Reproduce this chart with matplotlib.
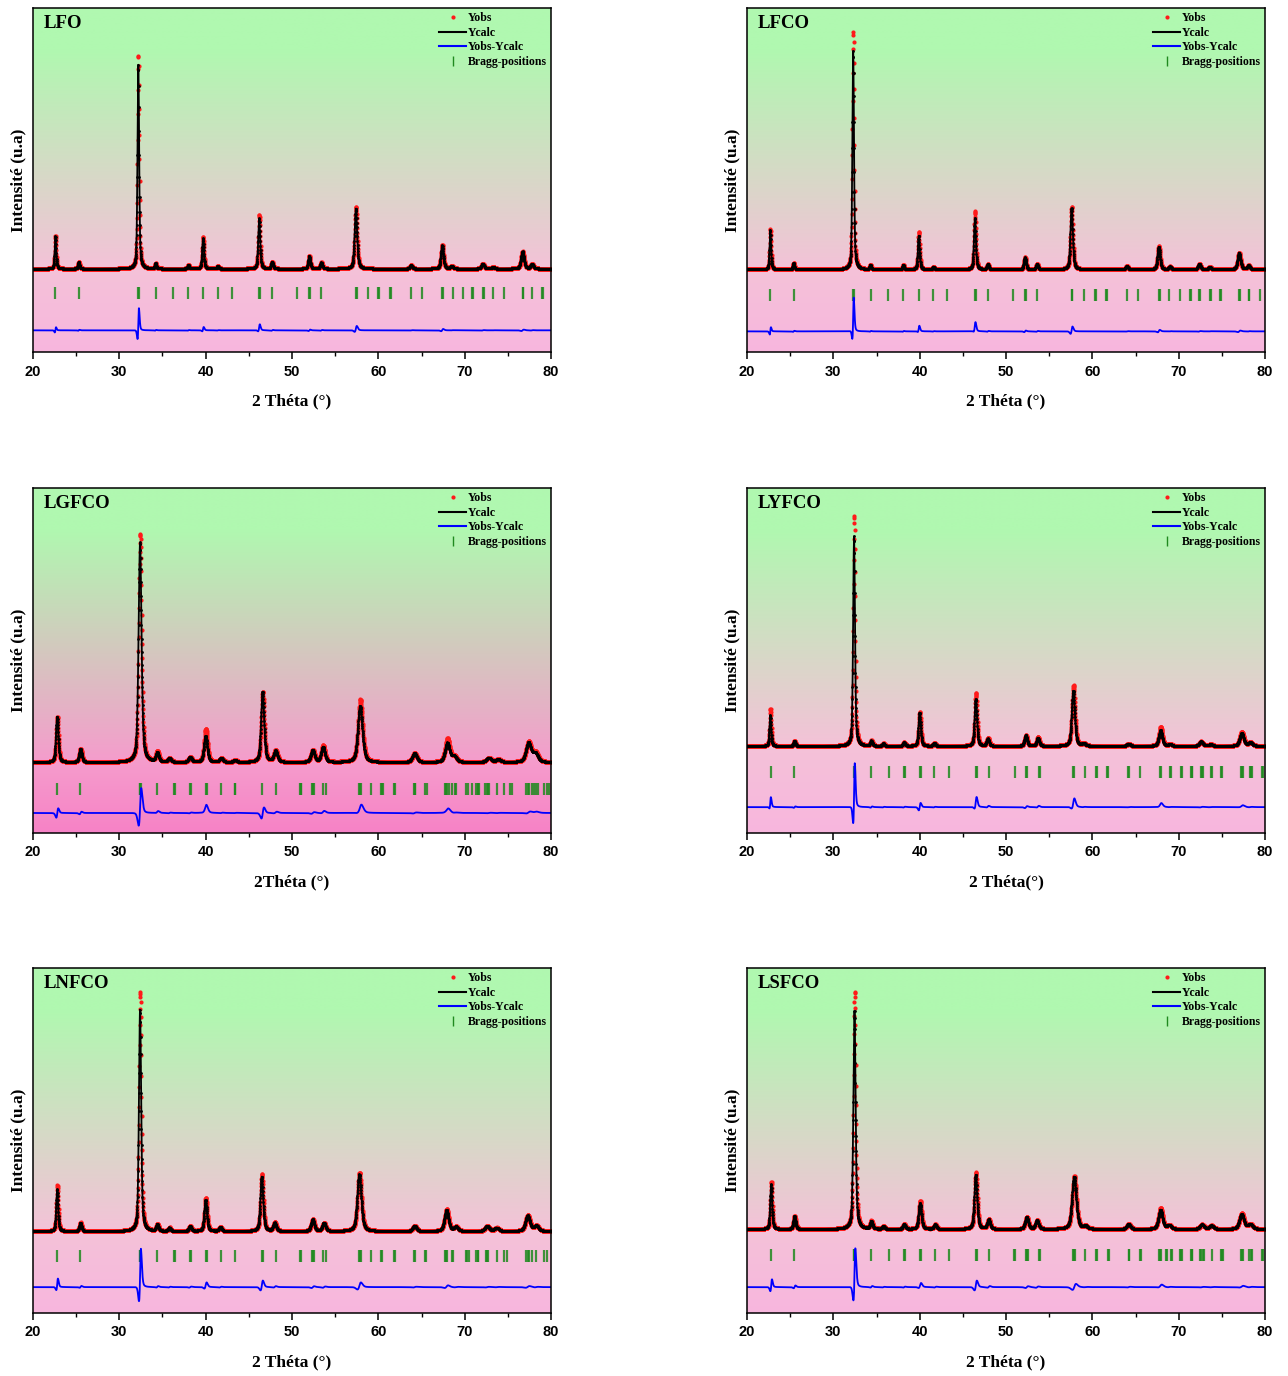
import numpy as np
import matplotlib
matplotlib.use('Agg')
import matplotlib.pyplot as plt
from matplotlib.lines import Line2D
from matplotlib.colors import to_rgb
from matplotlib.font_manager import FontProperties

# ---------------- data ----------------
x_ticks = [20, 30, 40, 50, 60, 70, 80]
panel_names = ['LFO', 'LFCO', 'LGFCO', 'LYFCO', 'LNFCO', 'LSFCO']
x_labels = ['2 Théta (°)', '2 Théta (°)', '2Théta (°)', '2 Théta(°)', '2 Théta (°)', '2 Théta (°)']
y_label = 'Intensité (u.a)'
legend_labels = ['Yobs', 'Ycalc', 'Yobs-Ycalc', 'Bragg-positions']

baseline = [24.2, 24.0, 20.5, 25.2, 23.7, 24.3]
bragg_level = [17.2, 16.5, 12.8, 17.6, 16.5, 16.9]
diff_level = [6.3, 6.0, 5.8, 7.5, 7.5, 7.5]
obs_shift = [0.012, 0.014, 0.025, 0.025, 0.025, 0.025]

LFO_pos = [22.6, 25.3, 32.2, 34.2, 38.0, 39.7, 41.4, 46.2, 47.7, 52.0, 53.4, 57.4, 63.8, 67.4, 68.5, 72.1, 73.3, 76.7, 77.8]
LFO_calc = [9.4, 2.0, 59.3, 1.5, 1.1, 8.8, 0.8, 14.6, 2.0, 3.7, 1.8, 17.5, 1.0, 6.8, 0.8, 1.5, 0.5, 5.0, 1.3]
LFO_obs = [9.6, 2.0, 62.2, 1.5, 1.1, 9.3, 0.8, 15.7, 2.0, 3.7, 1.8, 18.1, 1.0, 6.9, 0.8, 1.5, 0.5, 5.0, 1.3]
LFO_fwhm = [0.2, 0.22, 0.22, 0.22, 0.22, 0.24, 0.24, 0.26, 0.26, 0.28, 0.28, 0.34, 0.32, 0.34, 0.34, 0.36, 0.36, 0.4, 0.38]
LFO_bragg = [22.6, 25.3, 32.2, 32.3, 34.2, 36.2, 38.0, 39.7, 41.4, 43.1, 46.2, 46.3, 47.7, 50.6, 52.0, 52.1,
             53.4, 57.4, 57.5, 58.8, 60.0, 60.1, 61.4, 61.5, 63.8, 65.0, 67.4, 67.5, 68.6, 69.8, 70.9, 71.0,
             72.1, 72.2, 73.3, 74.5, 76.7, 76.8, 77.8, 78.9, 79.1]

LFCO_pos = [22.7, 25.4, 32.3, 34.3, 38.1, 39.9, 41.6, 46.4, 47.9, 52.2, 53.6, 57.6, 64.0, 67.7, 69.0, 72.4, 73.6, 77.0, 78.1]
LFCO_calc = [11.5, 1.8, 63.5, 1.3, 1.3, 9.8, 0.8, 14.9, 1.5, 3.5, 1.6, 17.8, 1.0, 6.6, 0.8, 1.6, 0.7, 4.9, 1.1]
LFCO_obs = [11.7, 1.8, 69.2, 1.3, 1.3, 10.9, 0.8, 16.9, 1.5, 3.5, 1.6, 18.3, 1.0, 6.7, 0.8, 1.6, 0.7, 4.9, 1.1]
LFCO_fwhm = [0.2, 0.22, 0.22, 0.22, 0.22, 0.24, 0.24, 0.26, 0.26, 0.28, 0.28, 0.32, 0.32, 0.34, 0.34, 0.36, 0.36, 0.4, 0.38]
LFCO_bragg = [22.7, 25.4, 32.3, 32.4, 34.4, 36.3, 38.1, 39.9, 41.6, 43.2, 46.4, 46.5, 47.9, 50.8, 52.2, 52.3,
              53.6, 57.6, 57.7, 59.0, 60.3, 60.4, 61.6, 61.7, 64.0, 65.3, 67.7, 67.8, 68.9, 70.1, 71.3, 71.4,
              72.4, 72.5, 73.6, 73.7, 74.8, 74.9, 77.0, 77.1, 78.1, 78.2, 79.4]

LGFCO_pos = [22.8, 25.5, 32.4, 34.4, 35.8, 38.2, 40.0, 41.8, 43.4, 46.6, 48.1, 52.4, 53.6, 57.9, 64.2, 68.0, 68.8, 72.8, 73.9, 77.4, 78.2]
LGFCO_calc = [13.2, 3.9, 63.7, 2.6, 1.2, 1.5, 7.6, 1.2, 0.6, 20.4, 3.2, 3.5, 4.4, 16.3, 2.6, 5.6, 1.6, 1.3, 0.8, 5.6, 2.4]
LGFCO_obs = [13.2, 3.9, 66.3, 3.0, 1.2, 1.5, 9.7, 1.2, 0.6, 20.4, 3.4, 3.5, 4.8, 18.2, 2.6, 6.8, 1.6, 1.3, 0.8, 5.8, 2.7]
LGFCO_fwhm = [0.32, 0.35, 0.4, 0.4, 0.4, 0.42, 0.45, 0.45, 0.45, 0.42, 0.5, 0.5, 0.5, 0.62, 0.6, 0.62, 0.62, 0.65, 0.65, 0.7, 0.7]
LGFCO_bragg = [22.8, 25.5, 32.35, 32.45, 32.5, 34.4, 36.35, 36.45, 38.15, 38.25, 40.0, 40.1, 41.8, 43.35, 43.45,
               46.55, 48.1, 50.9, 51.0, 51.1, 52.35, 52.45, 52.55, 53.6, 53.9, 57.8, 57.9, 58.0, 59.2, 60.35,
               60.45, 60.55, 61.8, 61.9, 64.1, 64.2, 64.3, 65.4, 65.6, 67.7, 67.85, 68.0, 68.2, 68.5, 68.9, 69.0,
               70.1, 70.4, 70.8, 71.3, 71.5, 71.6, 71.7, 72.4, 72.6, 72.7, 72.8, 73.7, 74.6, 75.2, 75.5, 77.1,
               77.3, 77.4, 77.8, 78.0, 78.3, 78.5, 79.2, 79.5, 79.8]

LYFCO_pos = [22.7, 25.5, 32.4, 34.4, 35.8, 38.2, 40.0, 41.7, 46.5, 47.9, 52.3, 53.7, 57.8, 59.0, 64.2, 67.9, 69.0, 72.6, 73.7, 77.3, 78.3]
LYFCO_calc = [8.9, 1.5, 60.8, 1.5, 0.7, 1.0, 9.7, 0.8, 13.6, 2.1, 3.1, 2.4, 16.0, 0.7, 0.7, 4.6, 0.5, 1.3, 0.5, 3.7, 1.0]
LYFCO_obs = [10.8, 1.5, 66.8, 1.5, 0.7, 1.0, 9.9, 0.8, 15.5, 2.3, 3.1, 2.6, 17.6, 0.7, 0.7, 5.6, 0.5, 1.3, 0.5, 4.1, 1.0]
LYFCO_fwhm = [0.22, 0.25, 0.25, 0.28, 0.28, 0.3, 0.3, 0.3, 0.32, 0.34, 0.36, 0.36, 0.42, 0.42, 0.45, 0.46, 0.46, 0.5, 0.5, 0.55, 0.55]
LYFCO_bragg = [22.75, 25.5, 32.4, 32.5, 34.4, 36.4, 38.2, 38.3, 40.0, 40.1, 41.7, 43.4, 46.5, 46.6, 48.0, 51.0,
               52.3, 52.4, 53.8, 53.9, 57.75, 57.85, 59.1, 60.4, 60.5, 61.7, 61.8, 64.1, 64.2, 65.5, 67.8, 67.9,
               69.0, 69.1, 70.3, 70.4, 71.4, 71.5, 71.6, 72.6, 72.7, 72.8, 73.8, 73.9, 74.9, 75.0, 77.2, 77.3,
               77.4, 78.3, 78.4, 78.5, 79.6, 79.8]

LNFCO_pos = [22.8, 25.5, 32.4, 34.4, 35.8, 38.2, 40.0, 41.7, 46.5, 48.0, 52.4, 53.7, 57.8, 64.2, 67.9, 69.0, 72.6, 73.7, 77.3, 78.3]
LNFCO_calc = [12.1, 2.4, 64.2, 1.9, 1.0, 1.5, 9.0, 1.2, 15.8, 2.4, 3.4, 2.4, 16.5, 1.6, 6.1, 1.2, 1.5, 1.0, 4.5, 1.5]
LNFCO_obs = [13.3, 2.5, 69.4, 2.0, 1.0, 1.5, 9.7, 1.2, 16.5, 2.5, 3.4, 2.4, 17.0, 1.6, 6.3, 1.2, 1.5, 1.0, 4.6, 1.5]
LNFCO_fwhm = [0.26, 0.3, 0.3, 0.32, 0.32, 0.34, 0.36, 0.36, 0.38, 0.4, 0.44, 0.44, 0.55, 0.5, 0.55, 0.55, 0.58, 0.58, 0.62, 0.62]
LNFCO_bragg = [22.8, 25.5, 32.35, 32.45, 34.4, 36.35, 36.45, 38.15, 38.25, 40.0, 40.1, 41.8, 43.4, 46.55, 46.65,
               48.1, 50.9, 51.0, 52.35, 52.45, 52.55, 53.6, 53.9, 57.8, 57.9, 58.0, 59.2, 60.35, 60.45, 61.8, 61.9,
               64.1, 64.2, 65.4, 65.5, 67.7, 67.85, 68.0, 68.5, 68.6, 70.1, 70.3, 70.5, 71.3, 71.5, 71.6, 72.5,
               72.6, 72.7, 73.7, 74.6, 74.9, 77.1, 77.3, 77.4, 77.8, 78.3, 79.2, 79.5]

LSFCO_pos = [22.8, 25.5, 32.45, 34.4, 35.8, 38.2, 40.05, 41.8, 46.5, 48.0, 52.4, 53.6, 57.9, 59.2, 64.2, 67.9, 68.9, 72.7, 73.8, 77.3, 78.3]
LSFCO_calc = [13.0, 3.7, 63.4, 2.2, 0.8, 1.4, 7.5, 1.3, 15.7, 2.7, 3.5, 2.5, 15.2, 0.8, 1.5, 5.6, 1.1, 1.3, 1.0, 4.3, 1.4]
LSFCO_obs = [13.8, 3.8, 68.9, 2.3, 0.8, 1.4, 8.2, 1.3, 16.4, 2.8, 3.5, 2.5, 15.3, 0.8, 1.5, 6.1, 1.1, 1.3, 1.0, 4.5, 1.4]
LSFCO_fwhm = [0.26, 0.3, 0.3, 0.32, 0.32, 0.34, 0.38, 0.36, 0.38, 0.4, 0.44, 0.44, 0.58, 0.5, 0.5, 0.55, 0.55, 0.58, 0.58, 0.62, 0.62]
LSFCO_bragg = [22.8, 25.5, 32.35, 32.45, 32.5, 34.4, 36.4, 38.15, 38.25, 40.0, 40.1, 41.8, 43.4, 46.5, 46.6, 48.0,
               50.9, 51.0, 52.3, 52.4, 52.5, 53.8, 53.9, 57.75, 57.85, 57.95, 59.2, 60.4, 60.5, 61.8, 61.9, 64.2,
               64.3, 65.5, 65.6, 67.75, 67.85, 67.95, 68.5, 68.6, 69.1, 69.2, 70.2, 70.3, 70.4, 71.4, 71.5, 71.6,
               72.5, 72.6, 72.8, 72.9, 73.9, 74.9, 75.0, 75.1, 77.2, 77.3, 77.4, 78.2, 78.4, 78.5, 79.6, 79.8]

peaks_pos = [LFO_pos, LFCO_pos, LGFCO_pos, LYFCO_pos, LNFCO_pos, LSFCO_pos]
peaks_calc = [LFO_calc, LFCO_calc, LGFCO_calc, LYFCO_calc, LNFCO_calc, LSFCO_calc]
peaks_obs = [LFO_obs, LFCO_obs, LGFCO_obs, LYFCO_obs, LNFCO_obs, LSFCO_obs]
peaks_fwhm = [LFO_fwhm, LFCO_fwhm, LGFCO_fwhm, LYFCO_fwhm, LNFCO_fwhm, LSFCO_fwhm]
braggs = [LFO_bragg, LFCO_bragg, LGFCO_bragg, LYFCO_bragg, LNFCO_bragg, LSFCO_bragg]

# ---------------- style ----------------
bg_top = ['#b0f8b0'] * 6
bg_base = ['#f4c2d8', '#f4c2d8', '#f59ccc', '#f4c2d8', '#f4c2d8', '#f4c2d8']
bg_bottom = ['#f8b6de', '#f8b6de', '#f782c6', '#f8b6de', '#f8b6de', '#f8b6de']

serif_bold = dict(family='Liberation Serif', weight='bold')

W, H = 1288, 1376
fig = plt.figure(figsize=(W / 100, H / 100), dpi=100)
cols_px = [33, 747]
rows_px = [(8, 352), (488, 833), (968, 1313)]
axw_px = 518

x = np.arange(20.0, 80.0001, 0.02)


def profile(xx, pos, amp, fwhm, shift):
    y = np.zeros_like(xx)
    for p, a, w in zip(pos, amp, fwhm):
        d = (xx - p - shift) / (w / 2.0)
        y += a * (0.5 / (1.0 + d * d) + 0.5 * np.exp(-np.log(2) * d * d))
    return y


def gradient_image(i):
    n = 400
    f = np.linspace(0, 1, n)
    top = np.array(to_rgb(bg_top[i]))
    base = np.array(to_rgb(bg_base[i]))
    bot = np.array(to_rgb(bg_bottom[i]))
    b = baseline[i] / 100.0
    g = 0.88
    img = np.zeros((n, 1, 3))
    for k, fk in enumerate(f):
        if fk <= b:
            t = fk / b
            c = bot * (1 - t) + base * t
        elif fk <= g:
            t = (fk - b) / (g - b)
            c = base * (1 - t) + top * t
        else:
            c = top
        img[k, 0] = c
    return img


for i, name in enumerate(panel_names):
    r, c = divmod(i, 2)
    top_px, bot_px = rows_px[r]
    ax = fig.add_axes([cols_px[c] / W, 1 - bot_px / H, axw_px / W, (bot_px - top_px) / H])
    ax.imshow(gradient_image(i), extent=[0, 1, 0, 1], transform=ax.transAxes, origin='lower',
              aspect='auto', zorder=0, interpolation='bilinear')

    ycalc = profile(x, peaks_pos[i], peaks_calc[i], peaks_fwhm[i], 0.0)
    yobs = profile(x, peaks_pos[i], peaks_obs[i], peaks_fwhm[i], obs_shift[i])

    ax.plot(x, baseline[i] + yobs, ls='none', marker='o', ms=3.0, mew=0, color='#ff1a1a', zorder=2)
    ax.plot(x, baseline[i] + ycalc, color='black', lw=1.3, marker='o', ms=2.0, mew=0, zorder=3)
    ax.plot(x, diff_level[i] + (yobs - ycalc), color='#0000ff', lw=1.3, zorder=3)
    ax.plot(braggs[i], [bragg_level[i]] * len(braggs[i]), ls='none', marker='|', ms=9, mew=1.6,
            color='#1f8a1f', alpha=0.85, zorder=2)

    ax.set_xlim(20, 80)
    ax.set_ylim(0, 100)
    ax.set_yticks([])
    ax.set_xticks(x_ticks)
    ax.set_xticks(np.arange(25, 80, 10), minor=True)
    ax.tick_params(axis='x', which='major', direction='out', length=5, width=1.1, pad=4)
    ax.tick_params(axis='x', which='minor', direction='out', length=3, width=1.0)
    for lab in ax.get_xticklabels():
        lab.set_fontfamily('Liberation Sans')
        lab.set_fontweight('bold')
        lab.set_fontsize(10.5)
    for sp in ax.spines.values():
        sp.set_linewidth(1.1)
        sp.set_zorder(5)

    ax.set_xlabel(x_labels[i], fontsize=12.5, labelpad=10.5, **serif_bold)
    ax.set_ylabel(y_label, fontsize=12.5, labelpad=5, **serif_bold)
    ax.text(0.02, 0.955, name, transform=ax.transAxes, ha='left', va='center', fontsize=13.5,
            zorder=6, **serif_bold)

    handles = [Line2D([], [], ls='none', marker='o', ms=3, mew=0, color='#ff1a1a'),
               Line2D([], [], color='black', lw=1.5),
               Line2D([], [], color='#0000ff', lw=1.5),
               Line2D([], [], ls='none', marker='|', ms=7, mew=1, color='#1f8a1f')]
    leg = ax.legend(handles, legend_labels, loc='upper right', frameon=False,
                    prop=FontProperties(family='Liberation Serif', weight='bold', size=8.5),
                    handlelength=2.3, handletextpad=0.15, labelspacing=0.22,
                    borderaxespad=0.05, borderpad=0.3)
    leg.set_zorder(6)

fig.savefig('out.png', dpi=100)
